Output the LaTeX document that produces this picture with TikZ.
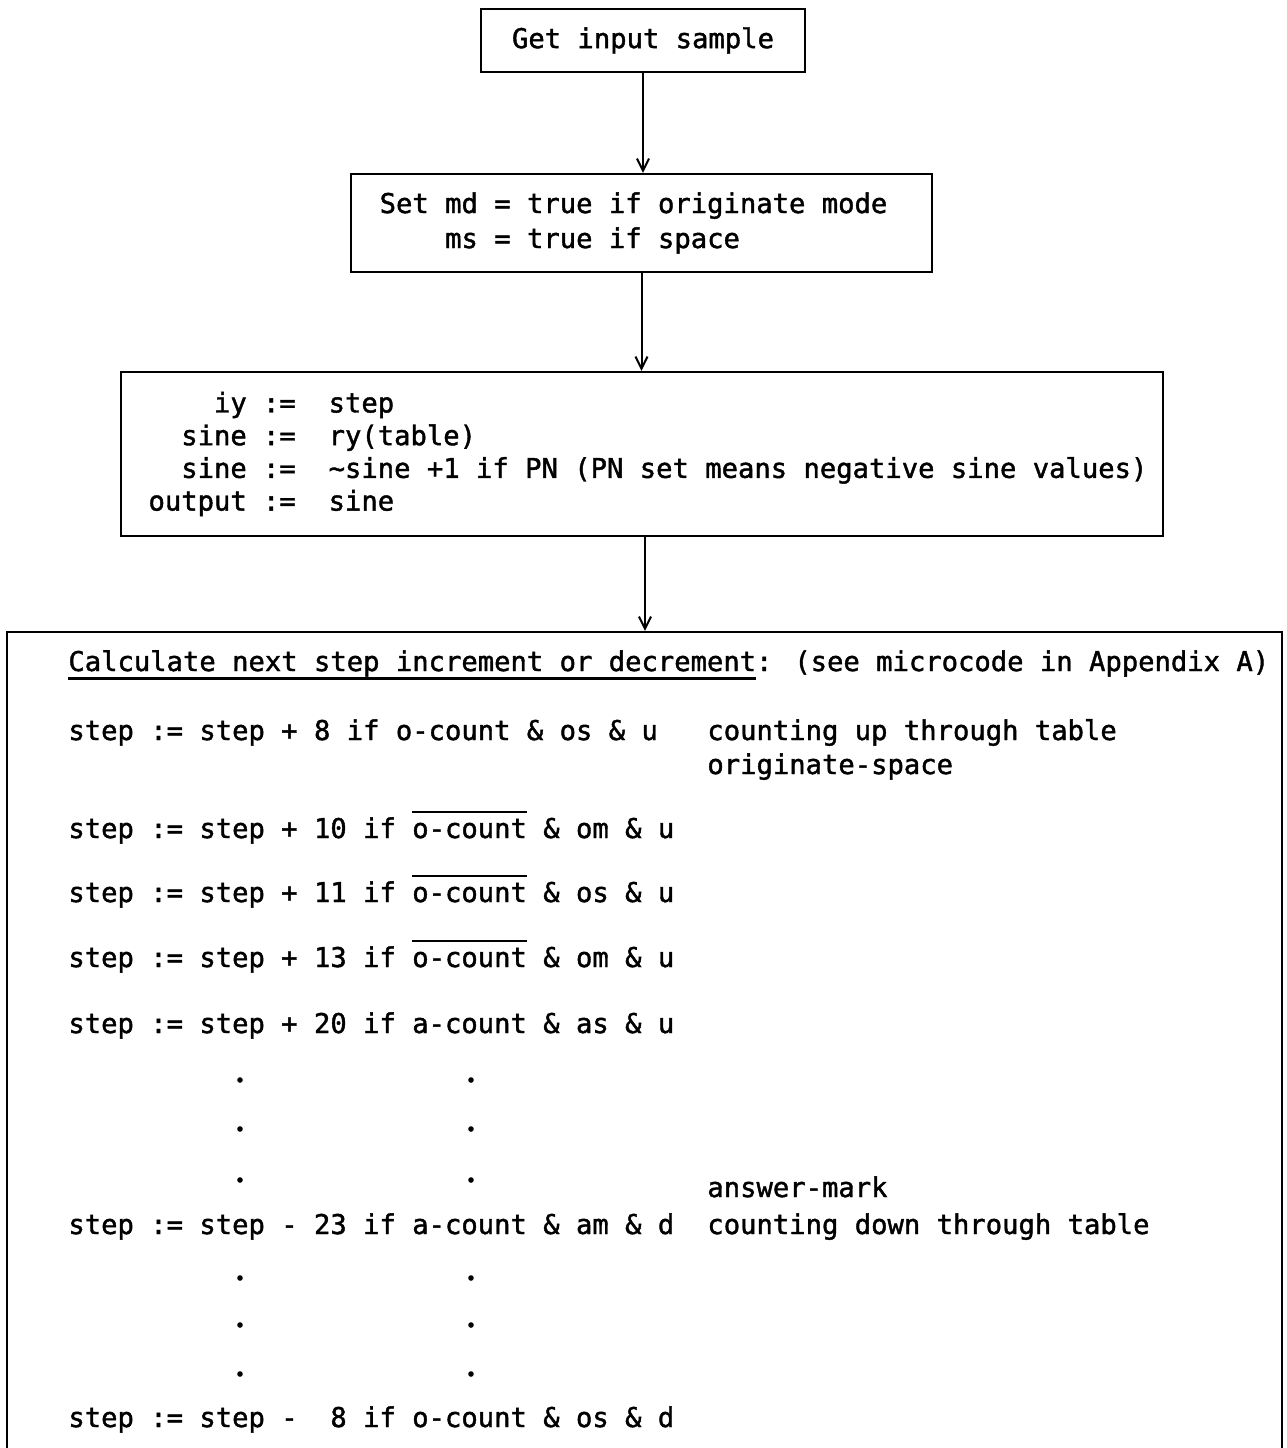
\documentclass[tikz,border=0pt]{standalone}
\usepackage{fontspec}
\usetikzlibrary{arrows.meta}
\newfontfamily\codefont[FakeBold=1.5]{DejaVu Sans Mono}
\newcommand\ovl[1]{\setbox0\hbox{#1}\rlap{\raisebox{12.6pt}{\rule{\wd0}{1pt}}}\box0\relax}
\newcommand\undl[1]{\setbox0\hbox{#1}\rlap{\raisebox{-4.6pt}{\rule{\wd0}{1.4pt}}}\box0\relax}
\newcommand\padl{\rule{6pt}{0pt}}
\begin{document}
\begin{tikzpicture}[x=0.5pt,y=-0.5pt,
  every node/.style={font=\codefont\fontsize{13.6pt}{16.35pt}\selectfont},
  flowbox/.style={draw,line width=1.2pt,rectangle,inner sep=0pt,align=left},
  codeline/.style={anchor=base west,inner sep=0pt},
  dotmark/.style={circle,fill,inner sep=0pt,minimum size=2.8pt},
  arr/.style={line width=1pt,-{Straight Barb[length=6pt,width=6pt,line width=1pt]}}]
\useasboundingbox (0,0) rectangle (1287,1448);
\clip (0,0) rectangle (1287,1448);
\fill[white] (0,0) rectangle (1287,1448);

\node[flowbox,minimum width=162pt,minimum height=31.5pt] (b1) at (643,40.5) {Get input sample};

\node[flowbox,minimum width=290.5pt,minimum height=49pt,
  font=\codefont\fontsize{13.6pt}{17.5pt}\selectfont] (b2) at (641.5,223)
  {Set md = true if originate mode\rule{8pt}{0pt}\\\ \ \ \ ms = true if space};

\node[flowbox,minimum width=521pt,minimum height=82pt] (b3) at (642,454)
  {\padl\ \ \ \ iy :=\ \ step\\
   \padl\ \ sine :=\ \ ry(table)\\
   \padl\ \ sine :=\ \ \textasciitilde sine +1 if PN (PN set means negative sine values)\\
   \padl output :=\ \ sine};

\node[flowbox,minimum width=637.5pt,minimum height=434pt] (b4) at (644.5,1066) {};

\draw[arr] (b1.south) -- (b1.south |- b2.north);
\draw[arr] (b2.south) -- (b2.south |- b3.north);
\draw[arr] ([xshift=1.5pt]b3.south) -- ([xshift=1.5pt]b3.south |- b4.north);

\node[codeline] (c0) at (68,671) {\undl{Calculate next step increment or decrement}: (see microcode in Appendix A)};
\node[codeline] (s1) at (68,740) {step := step + 8 if o-count \& os \& u};
\node[codeline] (n1) at (707,740) {counting up through table};
\node[codeline] (n2) at (707,774) {originate-space};
\node[codeline] (s2) at (68,838) {step := step + 10 if \ovl{o-count} \& om \& u};
\node[codeline] (s3) at (68,902) {step := step + 11 if \ovl{o-count} \& os \& u};
\node[codeline] (s4) at (68,967) {step := step + 13 if \ovl{o-count} \& om \& u};
\node[codeline] (s5) at (68,1033) {step := step + 20 if a-count \& as \& u};
\node[codeline] (n3) at (707,1197) {answer-mark};
\node[codeline] (s6) at (68,1234) {step := step - 23 if a-count \& am \& d};
\node[codeline] (n4) at (707,1234) {counting down through table};
\node[codeline] (s7) at (68,1427) {step := step -\ \ 8 if o-count \& os \& d};

\node[dotmark] (d1) at (240,1080) {};
\node[dotmark] (d2) at (471,1080) {};
\node[dotmark] (d3) at (240,1129) {};
\node[dotmark] (d4) at (471,1129) {};
\node[dotmark] (d5) at (240,1180) {};
\node[dotmark] (d6) at (471,1180) {};
\node[dotmark] (d7) at (240,1278) {};
\node[dotmark] (d8) at (471,1278) {};
\node[dotmark] (d9) at (240,1325) {};
\node[dotmark] (d10) at (471,1325) {};
\node[dotmark] (d11) at (240,1374) {};
\node[dotmark] (d12) at (471,1374) {};
\end{tikzpicture}
\end{document}
